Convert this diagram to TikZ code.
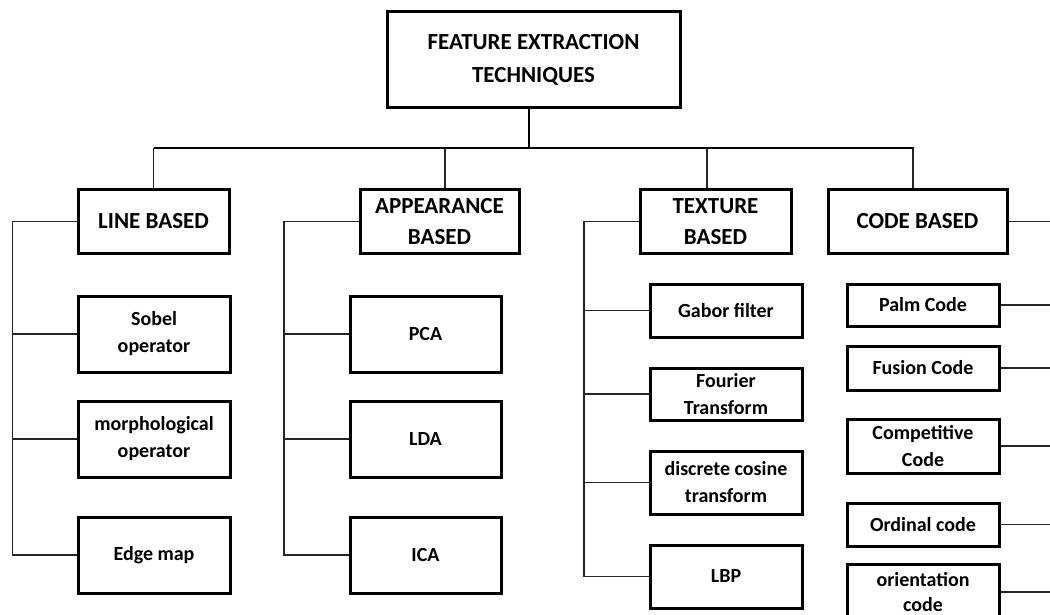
\documentclass[tikz,border=0pt]{standalone}
\usepackage{fontspec}
\setmainfont{Carlito}
\usetikzlibrary{positioning, calc}

\begin{document}
\begin{tikzpicture}[
    x=1pt, y=-1pt,
    box/.style={draw=black, line width=3pt, fill=white, inner sep=0pt, align=center, font=\bfseries},
    topbox/.style={box, font=\fontsize{23}{33}\selectfont\bfseries},
    headbox/.style={box, minimum height=63pt, font=\fontsize{23}{31}\selectfont\bfseries},
    leaf/.style={box, font=\fontsize{20}{27}\selectfont\bfseries},
    conn/.style={draw=black!85, line width=1.3pt},
    trunk/.style={draw=black, line width=2pt}
]
    \clip (0,0) rectangle (1050,615);

    % Root
    \node[topbox, minimum width=293pt, minimum height=96pt] (root) at (533.5,60) {FEATURE EXTRACTION\\TECHNIQUES};

    % Categories
    \node[headbox, minimum width=151pt] (line) at (153.5,221.5) {LINE BASED};
    \node[headbox, minimum width=159pt] (appear) at (439.5,221.5) {APPEARANCE\\BASED};
    \node[headbox, minimum width=151pt] (texture) at (715.5,221.5) {TEXTURE\\BASED};
    \node[headbox, minimum width=179pt] (code) at (917.5,221.5) {CODE BASED};

    % Line based
    \node[leaf, minimum width=152pt, minimum height=76pt] (sobel) at (154,334) {Sobel\\operator};
    \node[leaf, minimum width=152pt, minimum height=76pt] (morph) at (154,439) {morphological\\operator};
    \node[leaf, minimum width=152pt, minimum height=76pt] (edge) at (154,555) {Edge map};

    % Appearance based
    \node[leaf, minimum width=151pt, minimum height=76pt] (pca) at (425.5,334) {PCA};
    \node[leaf, minimum width=151pt, minimum height=76pt] (lda) at (425.5,439) {LDA};
    \node[leaf, minimum width=151pt, minimum height=76pt] (ica) at (425.5,555) {ICA};

    % Texture based
    \node[leaf, minimum width=152pt, minimum height=53pt] (gabor) at (726,310.5) {Gabor filter};
    \node[leaf, minimum width=152pt, minimum height=52pt] (fourier) at (726,394) {Fourier\\Transform};
    \node[leaf, minimum width=152pt, minimum height=63pt] (dct) at (726,482.5) {discrete cosine\\transform};
    \node[leaf, minimum width=152pt, minimum height=63pt] (lbp) at (726,576.5) {LBP};

    % Code based
    \node[leaf, minimum width=152pt, minimum height=42pt] (palm) at (923,305) {Palm Code};
    \node[leaf, minimum width=152pt, minimum height=44pt] (fusion) at (923,368) {Fusion Code};
    \node[leaf, minimum width=152pt, minimum height=54pt] (comp) at (923,446) {Competitive\\Code};
    \node[leaf, minimum width=152pt, minimum height=43pt] (ordinal) at (923,524.5) {Ordinal code};
    \node[leaf, minimum width=152pt, minimum height=56pt, font=\fontsize{20}{25}\selectfont\bfseries] (orient) at (923,592) {orientation\\code};

    % Tree links
    \coordinate (bus) at (0,148);
    \draw[trunk] ([xshift=-5pt]root.south) -- ([xshift=-5pt]root.south |- bus);
    \draw[trunk] (line.north |- bus) -- ([xshift=-4pt]code.north |- bus);
    \foreach \n/\dx in {line/0, appear/5.5, texture/-8.5, code/-4.5}
        \draw[conn] ([xshift=\dx pt]\n.north |- bus) -- ([xshift=\dx pt]\n.north);

    % Side buses
    \coordinate (lb) at (12.5,0);
    \coordinate (ab) at (284,0);
    \coordinate (tb) at (584,0);
    \coordinate (cb) at (1050,0);

    \draw[conn] (line.west) -| (lb |- edge.west) -- (edge.west);
    \foreach \n in {sobel, morph}
        \draw[conn] (lb |- \n.west) -- (\n.west);

    \draw[conn] (appear.west) -| (ab |- ica.west) -- (ica.west);
    \foreach \n in {pca, lda}
        \draw[conn] (ab |- \n.west) -- (\n.west);

    \draw[conn] (texture.west) -| (tb |- lbp.west) -- (lbp.west);
    \foreach \n in {gabor, fourier, dct}
        \draw[conn] (tb |- \n.west) -- (\n.west);

    \foreach \n in {code, palm, fusion, comp, ordinal, orient}
        \draw[conn] (\n.east) -- (cb |- \n.east);

\end{tikzpicture}
\end{document}
